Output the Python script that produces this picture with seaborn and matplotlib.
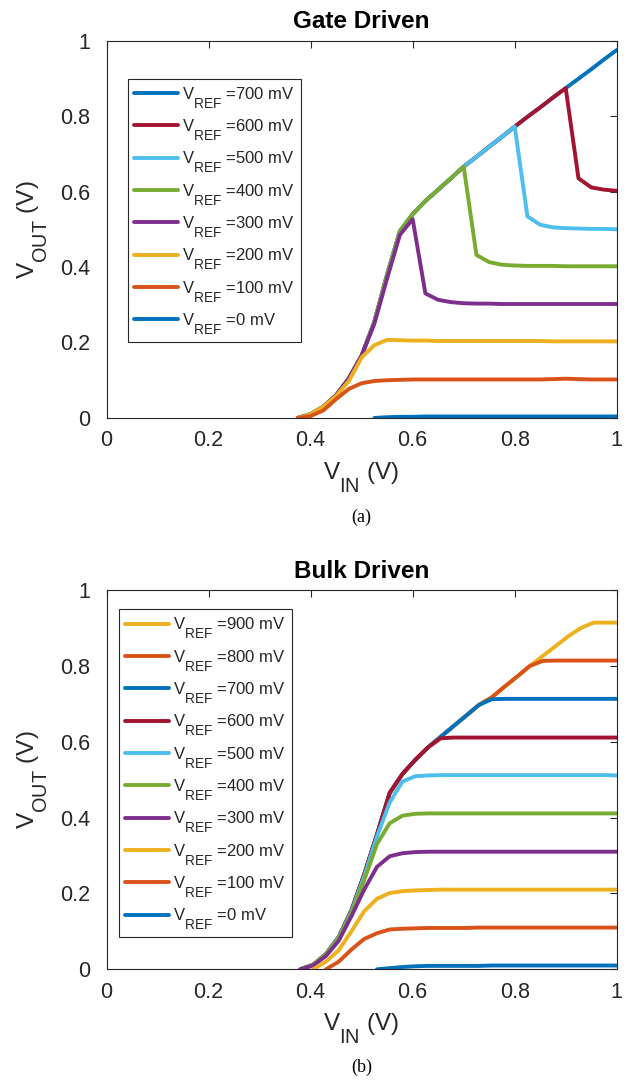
import matplotlib
matplotlib.use("Agg")
import matplotlib.pyplot as plt
import matplotlib._mathtext as mathtext_core
import seaborn as sns

# ---------------- Gate-driven sweep ----------------
gate_x = [0.375, 0.4, 0.425, 0.45, 0.475, 0.5, 0.525, 0.55, 0.575, 0.6, 0.625, 0.65, 0.675,
          0.7, 0.725, 0.75, 0.775, 0.8, 0.825, 0.85, 0.875, 0.9, 0.925, 0.95, 0.975, 1.0]
gate_700 = [0.0, 0.01, 0.03, 0.06, 0.105, 0.165, 0.255, 0.38, 0.495, 0.54, 0.575, 0.605, 0.635,
            0.666, 0.692, 0.719, 0.745, 0.772, 0.798, 0.823, 0.849, 0.874, 0.899, 0.924, 0.95, 0.975]
gate_600 = [0.0, 0.01, 0.03, 0.06, 0.105, 0.165, 0.255, 0.38, 0.495, 0.54, 0.575, 0.605, 0.635,
            0.666, 0.692, 0.719, 0.745, 0.772, 0.798, 0.823, 0.849, 0.874, 0.635, 0.611, 0.605, 0.602]
gate_500 = [0.0, 0.01, 0.03, 0.06, 0.105, 0.165, 0.255, 0.38, 0.495, 0.54, 0.575, 0.605, 0.635,
            0.666, 0.692, 0.719, 0.745, 0.772, 0.534, 0.512, 0.505, 0.503, 0.502, 0.501, 0.501, 0.500]
gate_400 = [0.0, 0.01, 0.03, 0.06, 0.105, 0.165, 0.255, 0.38, 0.495, 0.54, 0.575, 0.605, 0.635,
            0.666, 0.432, 0.413, 0.406, 0.404, 0.403, 0.403, 0.403, 0.402, 0.402, 0.402, 0.402, 0.402]
gate_300 = [0.0, 0.01, 0.03, 0.06, 0.105, 0.165, 0.25, 0.37, 0.485, 0.527, 0.330, 0.313, 0.307,
            0.304, 0.303, 0.303, 0.302, 0.302, 0.302, 0.302, 0.302, 0.302, 0.302, 0.302, 0.302, 0.302]
gate_200 = [0.0, 0.01, 0.03, 0.058, 0.098, 0.16, 0.193, 0.207, 0.206, 0.205, 0.205, 0.204, 0.204,
            0.204, 0.204, 0.204, 0.204, 0.204, 0.204, 0.204, 0.203, 0.203, 0.203, 0.203, 0.203, 0.203]
gate_100 = [0.0, 0.005, 0.02, 0.05, 0.077, 0.092, 0.098, 0.1, 0.101, 0.102, 0.102, 0.102, 0.102,
            0.102, 0.102, 0.102, 0.102, 0.102, 0.102, 0.102, 0.103, 0.104, 0.103, 0.102, 0.102, 0.102]
gate_x0 = [0.525, 0.55, 0.575, 0.6, 0.625, 0.65, 0.675, 0.7, 0.725, 0.75, 0.775, 0.8, 0.825,
           0.85, 0.875, 0.9, 0.925, 0.95, 0.975, 1.0]
gate_0 = [0.0, 0.002, 0.003, 0.003, 0.004, 0.004, 0.004, 0.004, 0.004, 0.004, 0.004, 0.004, 0.004,
          0.004, 0.004, 0.004, 0.004, 0.004, 0.004, 0.004]

# ---------------- Bulk-driven sweep ----------------
bulk_x = [0.38, 0.405, 0.43, 0.455, 0.48, 0.505, 0.53, 0.555, 0.58, 0.605, 0.63, 0.655, 0.68,
          0.705, 0.73, 0.755, 0.78, 0.805, 0.83, 0.855, 0.88, 0.905, 0.93, 0.955, 0.98, 1.0]
bulk_900 = [0.0, 0.012, 0.04, 0.085, 0.155, 0.25, 0.355, 0.465, 0.515, 0.552, 0.585, 0.613, 0.641,
            0.669, 0.697, 0.717, 0.745, 0.772, 0.800, 0.826, 0.852, 0.878, 0.900, 0.914, 0.914, 0.914]
bulk_800 = [0.0, 0.012, 0.04, 0.085, 0.155, 0.25, 0.355, 0.465, 0.515, 0.552, 0.585, 0.613, 0.641,
            0.669, 0.697, 0.717, 0.745, 0.772, 0.800, 0.813, 0.814, 0.814, 0.814, 0.814, 0.814, 0.814]
bulk_700 = [0.0, 0.012, 0.04, 0.085, 0.155, 0.25, 0.355, 0.465, 0.515, 0.552, 0.585, 0.613, 0.641,
            0.669, 0.697, 0.712, 0.713, 0.713, 0.713, 0.713, 0.713, 0.713, 0.713, 0.713, 0.713, 0.713]
bulk_600 = [0.0, 0.012, 0.04, 0.085, 0.155, 0.25, 0.355, 0.465, 0.515, 0.552, 0.585, 0.609, 0.611,
            0.611, 0.611, 0.611, 0.611, 0.611, 0.611, 0.611, 0.611, 0.611, 0.611, 0.611, 0.611, 0.611]
bulk_500 = [0.0, 0.012, 0.04, 0.085, 0.152, 0.245, 0.35, 0.44, 0.495, 0.509, 0.511, 0.512, 0.512,
            0.512, 0.512, 0.512, 0.512, 0.512, 0.512, 0.512, 0.512, 0.512, 0.512, 0.512, 0.512, 0.511]
bulk_400 = [0.0, 0.012, 0.04, 0.083, 0.148, 0.235, 0.33, 0.385, 0.405, 0.41, 0.411, 0.411, 0.411,
            0.411, 0.411, 0.411, 0.411, 0.411, 0.411, 0.411, 0.411, 0.411, 0.411, 0.411, 0.411, 0.411]
bulk_300 = [0.0, 0.01, 0.035, 0.075, 0.14, 0.21, 0.27, 0.298, 0.306, 0.309, 0.31, 0.31, 0.31,
            0.31, 0.31, 0.31, 0.31, 0.31, 0.31, 0.31, 0.31, 0.31, 0.31, 0.31, 0.31, 0.31]
bulk_x200 = bulk_x[1:]
bulk_200 = [0.0, 0.02, 0.05, 0.1, 0.153, 0.186, 0.201, 0.206, 0.208, 0.209, 0.21, 0.21, 0.21,
            0.21, 0.21, 0.21, 0.21, 0.21, 0.21, 0.21, 0.21, 0.21, 0.21, 0.21, 0.21]
bulk_x100 = bulk_x[2:]
bulk_100 = [0.0, 0.02, 0.052, 0.08, 0.095, 0.105, 0.107, 0.108, 0.109, 0.109, 0.109, 0.109,
            0.11, 0.11, 0.11, 0.11, 0.11, 0.11, 0.11, 0.11, 0.11, 0.11, 0.11, 0.11]
bulk_x0 = bulk_x[6:]
bulk_0 = [0.0, 0.003, 0.006, 0.008, 0.009, 0.009, 0.009, 0.009, 0.009, 0.01, 0.01, 0.01,
          0.01, 0.01, 0.01, 0.01, 0.01, 0.01, 0.01, 0.01]

vref_gate = ["700", "600", "500", "400", "300", "200", "100", "0"]
vref_bulk = ["900", "800", "700", "600", "500", "400", "300", "200", "100", "0"]

ticks = [0, 0.2, 0.4, 0.6, 0.8, 1.0]
tick_labels = ["0", "0.2", "0.4", "0.6", "0.8", "1"]

# MATLAB default line colours
C_BLUE = "#0072BD"
C_ORANGE = "#D95319"
C_YELLOW = "#EDB120"
C_PURPLE = "#7E2F8E"
C_GREEN = "#77AC30"
C_CYAN = "#4DBEEE"
C_RED = "#A2142F"

gate_series = [
    (gate_x, gate_700, C_BLUE),
    (gate_x, gate_600, C_RED),
    (gate_x, gate_500, C_CYAN),
    (gate_x, gate_400, C_GREEN),
    (gate_x, gate_300, C_PURPLE),
    (gate_x, gate_200, C_YELLOW),
    (gate_x, gate_100, C_ORANGE),
    (gate_x0, gate_0, C_BLUE),
]
bulk_series = [
    (bulk_x, bulk_900, C_YELLOW),
    (bulk_x, bulk_800, C_ORANGE),
    (bulk_x, bulk_700, C_BLUE),
    (bulk_x, bulk_600, C_RED),
    (bulk_x, bulk_500, C_CYAN),
    (bulk_x, bulk_400, C_GREEN),
    (bulk_x, bulk_300, C_PURPLE),
    (bulk_x200, bulk_200, C_YELLOW),
    (bulk_x100, bulk_100, C_ORANGE),
    (bulk_x0, bulk_0, C_BLUE),
]

sns.set_theme(style="white")
plt.rcParams["font.family"] = ["Liberation Sans", "DejaVu Sans"]
plt.rcParams["mathtext.fontset"] = "custom"
plt.rcParams["mathtext.rm"] = "Liberation Sans"
plt.rcParams["mathtext.it"] = "Liberation Sans:italic"
plt.rcParams["mathtext.bf"] = "Liberation Sans:bold"

# MATLAB-style subscripts: larger and dropped further below the baseline
mathtext_core.SHRINK_FACTOR = 0.82
mathtext_core.FontConstantsBase.sub1 = 1.0

INK = "#262626"
LW = 2.8

fig = plt.figure(figsize=(6.31, 10.8), dpi=100)
ax_top = fig.add_axes([0.1688, 0.6130, 0.8086, 0.3494])
ax_bot = fig.add_axes([0.1688, 0.1025, 0.8086, 0.3512])


def draw_panel(ax, series, vrefs, title, legend_anchor):
    for (xs, ys, col), v in zip(series, vrefs):
        sns.lineplot(x=xs, y=ys, color=col, linewidth=LW, estimator=None, sort=False,
                     label="V$_{\\mathregular{REF}}$ =" + v + " mV", ax=ax)
    ax.set_xlim(0, 1)
    ax.set_ylim(0, 1)
    ax.set_xticks(ticks)
    ax.set_xticklabels(tick_labels)
    ax.set_yticks(ticks)
    ax.set_yticklabels(tick_labels)
    ax.tick_params(direction="in", top=True, right=True, length=5, width=0.8,
                   colors=INK, labelsize=15.5)
    ax.tick_params(axis="x", pad=9)
    ax.tick_params(axis="y", pad=12)
    for sp in ax.spines.values():
        sp.set_color(INK)
        sp.set_linewidth(0.8)
        sp.set_visible(True)
    ax.set_title(title, fontsize=17.5, fontweight="bold", color="black", pad=9)
    ax.set_xlabel("V$_{\\mathregular{IN}}$ (V)", fontsize=17.5, color=INK, labelpad=6)
    ax.set_ylabel("V$_{\\mathregular{OUT}}$ (V)", fontsize=17.5, color=INK, labelpad=8)
    leg = ax.legend(loc="upper left", bbox_to_anchor=legend_anchor, borderaxespad=0,
                    fontsize=12, handlelength=2.65, handletextpad=0.25, labelspacing=0.44,
                    borderpad=0.36, fancybox=False, framealpha=1, edgecolor=INK)
    leg.get_frame().set_linewidth(0.8)
    for t in leg.get_texts():
        t.set_color(INK)


draw_panel(ax_top, gate_series, vref_gate, "Gate Driven", (0.0416, 0.899))
draw_panel(ax_bot, bulk_series, vref_bulk, "Bulk Driven", (0.0247, 0.949))

fig.text(0.573, 1 - 517 / 1080, "(a)", ha="center", va="center",
         family="Liberation Serif", fontsize=13, color="black")
fig.text(0.573, 1 - 1067 / 1080, "(b)", ha="center", va="center",
         family="Liberation Serif", fontsize=13, color="black")

fig.savefig("out.png", dpi=100, facecolor="white")
